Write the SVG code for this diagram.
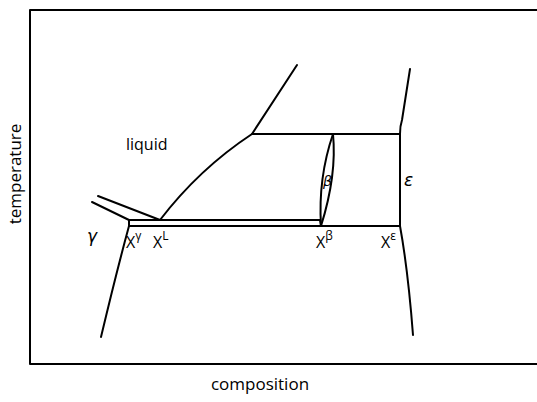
<svg xmlns="http://www.w3.org/2000/svg" width="537" height="402" viewBox="0 0 537 402">
<style>
.ln{fill:none;stroke:#000;stroke-width:2;stroke-linecap:round;stroke-linejoin:round}
.lbl{font-family:"Open Sans","DejaVu Sans",sans-serif;fill:#000}
.sym{font-family:"DejaVu Sans",sans-serif;font-style:italic;fill:#000}
</style>
<rect width="537" height="402" fill="#fff"/>
<g id="frame">
<path class="ln" d="M537,10 L30,10 L30,364 L537,364"/>
</g>
<g id="connectors">
<path class="ln" d="M98,196 L160,220"/>
<path class="ln" d="M92,202 L129,220"/>
<path class="ln" d="M129,220 L320,220"/>
<path class="ln" d="M129,220 L129,226 L400,226"/>
<path class="ln" d="M129,226 Q117,270 101,337"/>
<path class="ln" d="M160,220 Q199,169 252,134 L297,65"/>
<path class="ln" d="M252,134 L400,134"/>
<path class="ln" d="M410,69 L402,120 Q400,126 400,134 L400,226"/>
<path class="ln" d="M400,226 Q408,270 413,335"/>
<path class="ln" d="M333,134 Q318,178 321,226"/>
<path class="ln" d="M333,134 Q337,175 321,226"/>
<path class="ln" d="M320,220 L321,226"/>
</g>
<g id="labels">
<text class="lbl" x="126" y="150" font-size="16">liquid</text>
<text class="lbl" x="0" y="0" font-size="17" text-anchor="middle" transform="translate(21,174) rotate(-90)">temperature</text>
<text class="lbl" x="260" y="390" font-size="17" text-anchor="middle">composition</text>
<text class="sym" x="87" y="242" font-size="17">γ</text>
<text class="lbl" x="126" y="248" font-size="16">X<tspan font-size="12" dy="-8">γ</tspan></text>
<text class="lbl" x="153" y="248" font-size="16">X<tspan font-size="12" dy="-8">L</tspan></text>
<text class="lbl" x="316" y="248" font-size="16">X<tspan font-size="12" dy="-8">β</tspan></text>
<text class="lbl" x="381" y="248" font-size="16">X<tspan font-size="12" dy="-8">ε</tspan></text>
<text class="sym" x="323" y="186" font-size="14">β</text>
<text class="sym" x="404" y="186" font-size="17">ε</text>
</g>
</svg>
